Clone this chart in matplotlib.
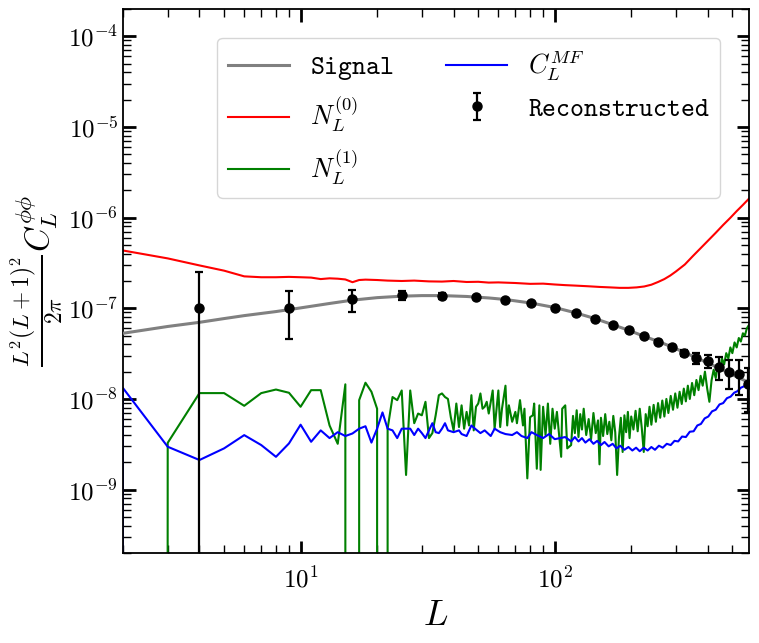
import matplotlib
matplotlib.use("Agg")
import matplotlib.pyplot as plt
from matplotlib.ticker import FuncFormatter, LogLocator, NullFormatter, FixedLocator
import numpy as np

plt.rcParams['mathtext.fontset'] = 'cm'
plt.rcParams['font.family'] = 'serif'
plt.rcParams['font.serif'] = ['DejaVu Serif']

# ---------------- data ----------------
signal_L = [2, 3, 4, 5, 6, 8, 10, 13, 16, 20, 25, 30, 36, 45, 55, 64, 81, 100,
            121, 144, 169, 196, 225, 256, 289, 324, 361, 400, 441, 484, 529, 580, 600]
signal_C = [5.3e-8, 6.3e-8, 7.0e-8, 7.7e-8, 8.3e-8, 9.2e-8, 1.01e-7, 1.13e-7, 1.23e-7,
            1.31e-7, 1.36e-7, 1.38e-7, 1.38e-7, 1.35e-7, 1.30e-7, 1.25e-7, 1.14e-7,
            1.02e-7, 8.9e-8, 7.7e-8, 6.6e-8, 5.7e-8, 4.9e-8, 4.3e-8, 3.75e-8, 3.25e-8,
            2.85e-8, 2.5e-8, 2.2e-8, 1.93e-8, 1.72e-8, 1.52e-8, 1.45e-8]

n0_L = [2, 3, 4, 5, 6, 7, 8, 9, 10, 11, 12, 13, 14, 15, 16, 17, 18, 20, 22, 25, 28,
        32, 36, 40, 45, 50, 55, 60, 70, 80, 90, 100, 110, 120, 135, 150, 165, 180,
        195, 210, 225, 240, 255, 270, 285, 300, 325, 350, 375, 400, 430, 460, 490,
        520, 550, 580, 600]
n0_C = [4.34e-7, 3.55e-7, 2.97e-7, 2.6e-7, 2.25e-7, 2.2e-7, 2.2e-7, 2.22e-7, 2.2e-7,
        2.18e-7, 2.1e-7, 2.14e-7, 2.12e-7, 2.08e-7, 1.94e-7, 2.05e-7, 2.07e-7, 2.05e-7,
        2.02e-7, 2.0e-7, 2.02e-7, 1.98e-7, 1.97e-7, 2.0e-7, 1.95e-7, 1.96e-7, 1.92e-7,
        1.93e-7, 1.9e-7, 1.86e-7, 1.87e-7, 1.83e-7, 1.8e-7, 1.78e-7, 1.75e-7, 1.72e-7,
        1.7e-7, 1.68e-7, 1.68e-7, 1.7e-7, 1.74e-7, 1.82e-7, 1.95e-7, 2.1e-7, 2.3e-7,
        2.55e-7, 3.04e-7, 3.78e-7, 4.6e-7, 5.53e-7, 6.8e-7, 8.3e-7, 9.9e-7, 1.18e-6,
        1.38e-6, 1.61e-6, 1.72e-6]

n1_L = [2, 3, 4, 5, 6, 7, 8, 9, 10, 11, 12, 13, 14, 15, 16, 17, 18, 19, 20, 21, 22,
        23, 24, 25, 26, 27, 28, 29, 30, 31, 32, 33, 34, 35, 36, 37, 38, 39, 40, 41,
        42, 43, 44, 45, 46, 47, 48, 49, 50, 51, 52, 53, 54, 55, 57, 58, 60, 61, 62,
        64, 65, 66, 68, 70, 71, 73, 75, 76, 78, 80, 82, 83, 85, 87, 88, 90, 92, 94,
        96, 98, 100, 102, 106, 107, 110, 112, 116, 118, 120, 122, 124, 126, 128, 130,
        133, 136, 139, 142, 145, 148, 150, 152, 155, 158, 161, 164, 167, 170, 173,
        176, 179, 182, 185, 188, 191, 194, 197, 200, 204, 208, 212, 216, 220, 224,
        228, 232, 236, 240, 245, 250, 255, 260, 265, 270, 275, 280, 286, 292, 298,
        304, 310, 316, 322, 328, 334, 340, 347, 354, 361, 368, 375, 382, 390, 398,
        406, 414, 422, 430, 438, 446, 455, 464, 473, 482, 491, 500, 510, 520, 530,
        540, 550, 560, 570, 580, 600]
n1_C = [0.0, 3.28e-9, 1.16e-8, 1.16e-8, 8.4e-9, 1.16e-8, 1.27e-8, 1.17e-8, 8.2e-9,
        1.25e-8, 1.25e-8, 5.1e-9, 3.2e-9, 1.45e-8, 0.0, 9.7e-9, 1.51e-8, 1.2e-8,
        7.8e-9, 0.0, 4.7e-9, 1.05e-8, 9.7e-9, 1.24e-8, 1.45e-9, 1.24e-8, 5.4e-9,
        6.9e-9, 6.6e-9, 9.3e-9, 3.7e-9, 4.2e-9, 6.6e-9, 1.1e-8, 1.15e-8, 1.05e-8,
        1.0e-8, 6.3e-9, 4.5e-9, 8.9e-9, 4.9e-9, 8.5e-9, 4.7e-9, 7.2e-9, 5.1e-9,
        1.1e-8, 4.5e-9, 8.2e-9, 8.9e-9, 1.15e-8, 7.8e-9, 8.2e-9, 9.3e-9, 6.9e-9,
        1.24e-8, 4.7e-9, 1.24e-8, 4.9e-9, 7.8e-9, 1.4e-8, 5.1e-9, 8.5e-9, 5.6e-9,
        7.2e-9, 5.4e-9, 9.7e-9, 5.1e-9, 7.8e-9, 1.33e-9, 6.3e-9, 6.6e-9, 8.9e-9,
        1.7e-9, 8.5e-9, 1.65e-9, 8.2e-9, 4.0e-9, 8.9e-9, 3.2e-9, 7.8e-9, 4.7e-9,
        7.2e-9, 2.3e-9, 7.8e-9, 8.5e-9, 2.85e-9, 3.1e-9, 6.5e-9, 4.2e-9, 7.5e-9,
        3.8e-9, 6.8e-9, 4.6e-9, 7.8e-9, 4.0e-9, 6.0e-9, 3.6e-9, 7.0e-9, 4.2e-9,
        5.8e-9, 1.9e-9, 6.2e-9, 3.9e-9, 6.8e-9, 4.1e-9, 5.6e-9, 3.5e-9, 6.5e-9,
        4.3e-9, 1.45e-9, 3.8e-9, 6.2e-9, 2.6e-9, 6.6e-9, 4.3e-9, 7.2e-9, 3.7e-9,
        6.4e-9, 4.6e-9, 7.4e-9, 4.4e-9, 7.8e-9, 4.8e-9, 2.6e-9, 6.8e-9, 5.0e-9,
        8.2e-9, 5.2e-9, 8.6e-9, 5.6e-9, 9.0e-9, 6.2e-9, 9.6e-9, 6.4e-9, 1.0e-8,
        7.0e-9, 1.08e-8, 7.6e-9, 1.15e-8, 8.0e-9, 1.2e-8, 8.8e-9, 1.3e-8, 9.4e-9,
        1.4e-8, 1.0e-8, 1.5e-8, 1.1e-8, 1.62e-8, 1.25e-8, 1.8e-8, 1.4e-8, 2.0e-8,
        1.3e-8, 9.3e-9, 1.6e-8, 2.1e-8, 1.7e-8, 2.4e-8, 2.0e-8, 2.8e-8, 2.4e-8,
        3.2e-8, 2.8e-8, 3.7e-8, 3.2e-8, 4.2e-8, 3.7e-8, 4.7e-8, 4.3e-8, 5.3e-8,
        5.0e-8, 6.0e-8, 6.5e-8, 6.8e-8]

mf_L = [1, 2, 3, 4, 5, 6, 7, 8, 9, 10, 11, 12, 13, 14, 15, 16, 17, 18, 19, 20, 21,
        22, 23, 24, 25, 26, 27, 28, 29, 30, 31, 32, 33, 34, 35, 36, 37, 38, 40, 42,
        43, 45, 47, 49, 51, 53, 56, 58, 61, 64, 68, 71, 74, 78, 81, 85, 90, 95, 100,
        105, 110, 116, 120, 124, 128, 132, 137, 142, 147, 152, 157, 163, 169, 175,
        181, 188, 195, 202, 209, 216, 224, 232, 240, 248, 257, 266, 276, 286, 296,
        306, 317, 328, 340, 352, 364, 376, 389, 402, 416, 430, 445, 460, 476, 492,
        508, 524, 540, 556, 572, 590]
mf_C = [0.0, 1.32e-8, 2.97e-9, 2.12e-9, 2.85e-9, 3.99e-9, 3.1e-9, 2.3e-9, 3.23e-9,
        5.2e-9, 3.37e-9, 4.5e-9, 3.7e-9, 4.3e-9, 3.9e-9, 4.16e-9, 4.7e-9, 5.0e-9,
        3.3e-9, 4.7e-9, 7.1e-9, 4.7e-9, 4.5e-9, 3.7e-9, 4.7e-9, 4.7e-9, 4.7e-9,
        4.0e-9, 4.7e-9, 4.2e-9, 3.7e-9, 4.5e-9, 5.4e-9, 4.3e-9, 4.2e-9, 4.7e-9,
        5.4e-9, 4.5e-9, 4.3e-9, 4.5e-9, 4.1e-9, 3.9e-9, 5.1e-9, 4.6e-9, 4.2e-9,
        4.5e-9, 3.9e-9, 4.7e-9, 4.3e-9, 4.1e-9, 4.0e-9, 4.3e-9, 3.9e-9, 3.7e-9,
        4.3e-9, 4.0e-9, 3.7e-9, 4.1e-9, 3.6e-9, 3.7e-9, 3.8e-9, 3.4e-9, 3.8e-9,
        3.4e-9, 3.7e-9, 3.3e-9, 3.6e-9, 3.2e-9, 3.45e-9, 3.1e-9, 3.35e-9, 3.0e-9,
        3.2e-9, 2.85e-9, 3.05e-9, 2.75e-9, 2.95e-9, 2.7e-9, 2.9e-9, 2.65e-9, 2.9e-9,
        2.7e-9, 2.95e-9, 2.75e-9, 3.05e-9, 2.9e-9, 3.2e-9, 3.1e-9, 3.45e-9, 3.4e-9,
        3.85e-9, 3.8e-9, 4.35e-9, 4.4e-9, 5.1e-9, 5.3e-9, 6.1e-9, 6.4e-9, 7.3e-9,
        7.6e-9, 8.7e-9, 9.0e-9, 1.02e-8, 1.06e-8, 1.17e-8, 1.22e-8, 1.33e-8, 1.38e-8,
        1.48e-8, 1.55e-8]

rec_L = [4, 9, 16, 25, 36, 49, 64, 81, 100, 121, 144, 169, 196, 225, 256, 289, 324,
         361, 400, 441, 484, 529, 576]
rec_C = [1.0e-7, 1.0e-7, 1.25e-7, 1.39e-7, 1.36e-7, 1.32e-7, 1.23e-7, 1.13e-7,
         1.0e-7, 8.9e-8, 7.6e-8, 6.5e-8, 5.7e-8, 4.9e-8, 4.3e-8, 3.73e-8, 3.23e-8,
         2.82e-8, 2.62e-8, 2.25e-8, 1.98e-8, 1.9e-8, 1.47e-8]
rec_err = [1.5e-7, 5.4e-8, 3.3e-8, 1.6e-8, 1.0e-8, 6e-9, 4e-9, 3e-9, 2.5e-9, 2e-9,
           1.8e-9, 1.6e-9, 1.5e-9, 1.5e-9, 1.6e-9, 1.8e-9, 2.5e-9, 4.0e-9, 4.3e-9,
           6.5e-9, 7.0e-9, 8.0e-9, 7.5e-9]

x_major = [10, 100]
y_major = [1e-9, 1e-8, 1e-7, 1e-6, 1e-5, 1e-4]

# ---------------- figure ----------------
fig = plt.figure(figsize=(7.59, 6.43), dpi=100)
ax = fig.add_axes([0.162, 0.14, 0.825, 0.846])

ax.plot(signal_L, signal_C, color='gray', lw=2.2, label=r'$\mathtt{Signal}$', zorder=3)
ax.plot(n0_L, n0_C, color='red', lw=1.5, label=r'$N_L^{(0)}$', zorder=2)
ax.plot(n1_L, n1_C, color='green', lw=1.5, label=r'$N_L^{(1)}$', zorder=2)
ax.plot(mf_L, mf_C, color='blue', lw=1.5, label=r'$C_L^{MF}$', zorder=2)
ax.errorbar(rec_L, rec_C, yerr=rec_err, fmt='o', color='black', ms=6.5,
            capsize=3, elinewidth=1.6, capthick=1.6, label=r'$\mathtt{Reconstructed}$',
            zorder=4)

ax.set_xscale('log')
ax.set_yscale('log')
ax.set_xlim(2, 582)
ax.set_ylim(2e-10, 2e-4)

fmt = FuncFormatter(lambda v, p: r'$10^{%d}$' % int(round(np.log10(v))))
ax.xaxis.set_major_locator(FixedLocator(x_major))
ax.yaxis.set_major_locator(FixedLocator(y_major))
ax.xaxis.set_major_formatter(fmt)
ax.yaxis.set_major_formatter(fmt)
ax.xaxis.set_minor_locator(LogLocator(base=10, subs=np.arange(2, 10), numticks=20))
ax.yaxis.set_minor_locator(LogLocator(base=10, subs=np.arange(2, 10), numticks=20))
ax.xaxis.set_minor_formatter(NullFormatter())
ax.yaxis.set_minor_formatter(NullFormatter())

ax.tick_params(which='both', direction='in', top=True, right=True, labelsize=18)
ax.tick_params(which='major', length=9, width=2)
ax.tick_params(which='minor', length=5.5, width=1)
ax.tick_params(axis='x', which='major', pad=10)
for s in ax.spines.values():
    s.set_linewidth(1.3)

ax.set_xlabel(r'$L$', fontsize=26)
ax.set_ylabel(r'$\frac{L^2(L+1)^2}{2\pi}C_L^{\phi\phi}$', fontsize=24, labelpad=2)

ax.legend(ncol=2, loc='upper right', bbox_to_anchor=(0.954, 0.947), borderaxespad=0,
          fontsize=19, handlelength=2.3, columnspacing=2.0)

fig.savefig('out.png', dpi=100)
